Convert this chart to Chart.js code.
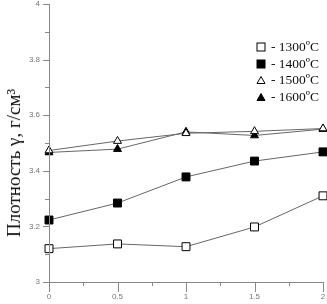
<!DOCTYPE html>
<html>
<head>
<meta charset="utf-8">
<script src="https://cdn.jsdelivr.net/npm/chart.js@4.4.1/dist/chart.umd.min.js"></script>
<style>
  html, body { margin: 0; padding: 0; background: #fff; }
  #wrap { position: relative; width: 327px; height: 304px; }
  #ytitle {
    position: absolute; left: 14px; top: 163px;
    transform: translate(-50%, -50%) rotate(-90deg);
    font-family: "Liberation Serif", "DejaVu Serif", serif; font-size: 19px;
    white-space: nowrap; color: #111;
  }
  #legend {
    position: absolute; left: 256px; top: 39px;
    font-family: "Liberation Serif", "DejaVu Serif", serif; font-size: 13.5px; color: #111;
  }
  #legend div { height: 16.5px; line-height: 16.5px; white-space: nowrap; }
  #legend svg { vertical-align: -1px; margin-right: 5px; }
</style>
</head>
<body>
<div id="wrap">
  <canvas id="grafico" width="327" height="304"></canvas>
  <div id="ytitle">Плотность γ, г/см³</div>
  <div id="legend"></div>
</div>
<script>
// Datos
const tiempo = [0, 0.5, 1, 1.5, 2];
const temperaturas = ['1300ºC', '1400ºC', '1500ºC', '1600ºC'];
const dens1300 = [3.12, 3.137, 3.127, 3.198, 3.31];
const dens1400 = [3.223, 3.284, 3.378, 3.435, 3.468];
const dens1500 = [3.473, 3.507, 3.535, 3.542, 3.552];
const dens1600 = [3.466, 3.478, 3.54, 3.527, 3.55];
const yTicksLabels = [3, 3.2, 3.4, 3.6, 3.8, 4];
const xTicksLabels = [0, 0.5, 1, 1.5, 2];

const series = [dens1300, dens1400, dens1500, dens1600];
const estilos = [
  { pointStyle: 'rect', radius: 5.6, fill: '#fff' },
  { pointStyle: 'rect', radius: 5.6, fill: '#000' },
  { pointStyle: 'triangle', radius: 4.6, fill: '#fff' },
  { pointStyle: 'triangle', radius: 4.6, fill: '#000' }
];

const datasets = series.map((s, i) => ({
  label: temperaturas[i],
  data: s.map((v, j) => ({ x: tiempo[j], y: v })),
  borderColor: '#666',
  borderWidth: 1,
  pointStyle: estilos[i].pointStyle,
  pointRadius: estilos[i].radius,
  pointBackgroundColor: estilos[i].fill,
  pointBorderColor: '#000',
  pointBorderWidth: 1,
  tension: 0,
  clip: false
}));

// Marcas de los ejes (mayores y menores)
const marcasEjes = {
  id: 'marcasEjes',
  afterDraw(chart) {
    const ctx = chart.ctx;
    const x = chart.scales.x, y = chart.scales.y;
    ctx.save();
    ctx.strokeStyle = '#888';
    ctx.lineWidth = 1;
    ctx.beginPath();
    // eje x
    ctx.moveTo(x.left, Math.round(y.bottom) + 0.5);
    ctx.lineTo(x.right, Math.round(y.bottom) + 0.5);
    for (let v = 0; v <= 2.0001; v += 0.25) {
      const px = Math.round(x.getPixelForValue(v)) + 0.5;
      const mayor = Math.abs(v * 2 - Math.round(v * 2)) < 1e-6;
      ctx.moveTo(px, y.bottom);
      ctx.lineTo(px, y.bottom + (mayor ? 10 : 4));
    }
    // eje y
    ctx.moveTo(Math.round(x.left) + 0.5, y.top);
    ctx.lineTo(Math.round(x.left) + 0.5, y.bottom);
    for (let k = 0; k <= 10; k++) {
      const py = Math.round(y.getPixelForValue(3 + k * 0.1)) + 0.5;
      ctx.moveTo(x.left, py);
      ctx.lineTo(x.left - (k % 2 === 0 ? 6 : 4), py);
    }
    ctx.stroke();
    ctx.restore();
  }
};

new Chart(document.getElementById('grafico').getContext('2d'), {
  type: 'line',
  data: { datasets },
  options: {
    responsive: false,
    animation: false,
    layout: { autoPadding: false, padding: { top: 4, right: 4, left: 0, bottom: 0 } },
    plugins: { legend: { display: false }, tooltip: { enabled: false } },
    scales: {
      x: {
        type: 'linear', min: 0, max: 2,
        grid: { display: false, drawTicks: false },
        border: { display: false },
        afterFit: s => { s.height = 22; s.paddingLeft = 0; s.paddingRight = 0; },
        afterBuildTicks: s => { s.ticks = xTicksLabels.map(v => ({ value: v })); },
        ticks: { padding: 10, color: '#777', font: { family: 'Arial, Liberation Sans', size: 8 }, maxRotation: 0,
          callback: v => String(v) }
      },
      y: {
        type: 'linear', min: 3, max: 4,
        grid: { display: false, drawTicks: false },
        border: { display: false },
        afterFit: s => { s.width = 49; s.paddingTop = 0; s.paddingBottom = 0; },
        afterBuildTicks: s => { s.ticks = yTicksLabels.map(v => ({ value: v })); },
        ticks: { padding: 9, color: '#777', font: { family: 'Arial, Liberation Sans', size: 8 },
          callback: v => String(v) }
      }
    }
  },
  plugins: [marcasEjes]
});

// Leyenda
const simbolos = [
  '<rect x="1" y="1" width="8" height="8" fill="#fff" stroke="#000"/>',
  '<rect x="1" y="1" width="8" height="8" fill="#000" stroke="#000"/>',
  '<polygon points="5,1.5 9,8.5 1,8.5" fill="#fff" stroke="#000"/>',
  '<polygon points="5,1.5 9,8.5 1,8.5" fill="#000" stroke="#000"/>'
];
document.getElementById('legend').innerHTML = temperaturas.map((t, i) =>
  `<div><svg width="10" height="10">${simbolos[i]}</svg>- ${t}</div>`).join('');
</script>
</body>
</html>
